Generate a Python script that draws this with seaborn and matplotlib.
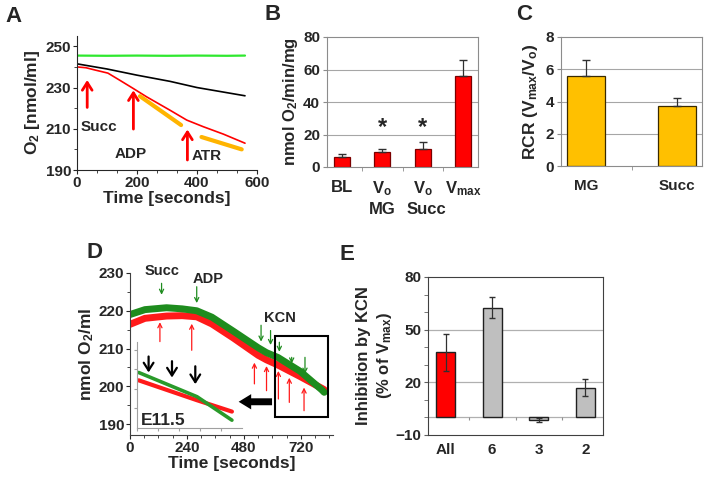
import matplotlib
matplotlib.use("Agg")
import matplotlib.pyplot as plt
import seaborn as sns
import pandas as pd
from matplotlib.ticker import MultipleLocator
from matplotlib.patches import Rectangle
from matplotlib.transforms import blended_transform_factory

# ---------------- data ----------------
# A: oxygen traces
a_green_t = [0, 100, 200, 300, 400, 500, 560]
a_green = [245.5, 245.4, 245.5, 245.4, 245.5, 245.4, 245.5]
a_black_t = [0, 100, 200, 310, 400, 500, 560]
a_black = [241.5, 239, 236, 233, 230, 227.5, 226]
a_red_t = [0, 30, 60, 103, 143, 188, 232, 310, 366, 421, 488, 560]
a_red = [240, 239.6, 238.5, 237, 233.5, 229.5, 225.5, 219, 214.2, 211, 207.4, 203]
a_orange1_t = [210, 347]
a_orange1 = [225.8, 211.8]
a_orange2_t = [415, 549]
a_orange2 = [206, 200]
a_arrow_t = [34, 188, 368]
a_arrow_from = [219, 208.5, 193.5]
a_arrow_to = [235, 230, 211]
a_text = ["Succ", "ADP", "ATR"]
a_text_t = [74, 180, 432]
a_text_y = [211, 197.7, 196.8]

# B: respiration rates
b_cats = ["BL", "Vo MG", "Vo Succ", "Vmax"]
b_labels = ["BL", r"V$_o$", r"V$_o$", r"V$_{max}$"]
b_vals = [6.2, 9.2, 11.3, 55.8]
b_err = [1.6, 2.1, 4.1, 10.2]
b_star = [False, True, True, False]

# C: RCR
c_cats = ["MG", "Succ"]
c_vals = [5.58, 3.72]
c_err = [0.99, 0.48]

# D: embryo traces
d_green_t = [0, 63, 154, 220, 281, 345, 435, 540, 575, 624, 716, 807, 818]
d_green = [219, 220.3, 220.8, 220.5, 220, 218.3, 214.6, 210.2, 208.9, 207.6, 204, 199.1, 198.4]
d_red_t = [0, 63, 154, 220, 281, 345, 435, 540, 575, 624, 716, 807, 818]
d_red = [216.4, 218, 218.6, 218.7, 218.4, 216.5, 212.8, 208.2, 207, 205.6, 202.6, 199.5, 199.1]
d_green_arrow_t = [133, 281, 552, 592, 629, 681, 737]
d_green_arrow_from = [228, 227.1, 216.9, 215.5, 212.4, 208.4, 208.4]
d_green_arrow_to = [223.5, 221.3, 211.1, 210.2, 208.4, 205.3, 202.6]
d_red_arrow_t = [126, 260, 524, 575, 625, 671, 733]
d_red_arrow_from = [211.1, 208.8, 199.9, 198.1, 195.9, 195, 192.8]
d_red_arrow_to = [217.7, 217.3, 207, 206.1, 204.8, 203, 200.4]
d_text = ["Succ", "ADP", "KCN"]
d_text_t = [133, 330, 632]
d_text_y = [230.6, 228.4, 218.2]
d_box_t = [610, 833]
d_box_y = [191.9, 213.2]
# inset (zoom of the boxed region)
i_green_t = [604, 743, 826]
i_green = [204.2, 198.0, 192.0]
i_red_t = [604, 743, 826]
i_red = [202.2, 197.1, 194.2]
i_arrow_t = [627.6, 683.3, 738.8]
i_arrow_from = [209.0, 207.8, 206.5]
i_arrow_to = [203.5, 202.2, 200.5]

# E: KCN inhibition
e_cats = ["All", "6", "3", "2"]
e_vals = [37, 62.6, -1.6, 17]
e_err = [10.3, 5.9, 1.2, 4.8]
e_colors = ["#ff0000", "#bfbfbf", "#bfbfbf", "#bfbfbf"]

# ---------------- style ----------------
sns.set_style("ticks")
plt.rcParams['font.family'] = ['Liberation Sans', 'DejaVu Sans']
plt.rcParams['font.weight'] = 'bold'
plt.rcParams['axes.labelweight'] = 'bold'
plt.rcParams['mathtext.fontset'] = 'custom'
plt.rcParams['mathtext.rm'] = 'Liberation Sans:bold'
plt.rcParams['mathtext.bf'] = 'Liberation Sans:bold'
plt.rcParams['mathtext.it'] = 'Liberation Sans:bold'
plt.rcParams['mathtext.default'] = 'bf'
plt.rcParams['xtick.labelsize'] = 11
plt.rcParams['ytick.labelsize'] = 11

W, H = 707, 480
fig = plt.figure(figsize=(7.07, 4.8), dpi=100)


def box(l, t, r, b):
    return [l / W, 1 - b / H, (r - l) / W, (b - t) / H]


def letter(x, y, s):
    fig.text(x / W, 1 - y / H, s, fontsize=16, fontweight='bold', ha='center', va='center')


# ---------------- A ----------------
axA = fig.add_axes(box(77, 36, 257, 170))
sns.lineplot(x=a_green_t, y=a_green, color="#2ee82e", lw=1.6, ax=axA)
sns.lineplot(x=a_black_t, y=a_black, color="black", lw=1.2, ax=axA)
sns.lineplot(x=a_red_t, y=a_red, color="red", lw=1.2, ax=axA)
sns.lineplot(x=a_orange1_t, y=a_orange1, color="#ffb400", lw=3, ax=axA)
sns.lineplot(x=a_orange2_t, y=a_orange2, color="#ffb400", lw=3, ax=axA)
for t, y0, y1 in zip(a_arrow_t, a_arrow_from, a_arrow_to):
    axA.annotate("", xy=(t, y1), xytext=(t, y0), annotation_clip=False,
                 arrowprops=dict(arrowstyle="->,head_length=0.55,head_width=0.35", color="red", lw=2))
for s, t, y in zip(a_text, a_text_t, a_text_y):
    axA.text(t, y, s, fontsize=11, ha='center', va='center')
axA.set_xlim(0, 600)
axA.set_ylim(190, 255)
axA.set_yticks([190, 210, 230, 250])
axA.set_xticks([0, 200, 400, 600])
axA.yaxis.set_minor_locator(MultipleLocator(10))
axA.xaxis.set_minor_locator(MultipleLocator(200 / 3))
sns.despine(ax=axA)
axA.set_xlabel("Time [seconds]", fontsize=12.5, labelpad=1)
axA.set_ylabel("O$_2$ [nmol/ml]", fontsize=12.5, labelpad=3)
axA.tick_params(length=3, pad=1)
axA.tick_params(which='minor', length=2)
letter(13, 17, "A")

# ---------------- B ----------------
grid_c = "#a6a6a6"
frame_c = "#8c8c8c"
axB = fig.add_axes(box(327, 37, 478, 167))
for y in [20, 40, 60]:
    axB.axhline(y, color=grid_c, lw=0.8, zorder=0)
sns.barplot(x=b_cats, y=b_vals, color="#ff0000", width=0.4, saturation=1,
            edgecolor="#7a0000", linewidth=0.9, ax=axB, zorder=2)
axB.errorbar(range(len(b_cats)), b_vals, yerr=[[0] * 4, b_err], fmt='none',
             ecolor="#303030", elinewidth=0.9, capsize=3, zorder=3)
for i, s in enumerate(b_star):
    if s:
        axB.text(i, 24.5, "*", fontsize=17, ha='center', va='center')
axB.set_ylim(0, 80)
axB.set_yticks([0, 20, 40, 60, 80])
axB.set_xticks(range(4))
axB.set_xticklabels(b_labels, fontsize=12)
axB.set_xticks([0.5, 1.5, 2.5], minor=True)
axB.tick_params(axis='x', which='major', length=0, pad=9)
axB.tick_params(axis='x', which='minor', length=3, color=frame_c)
axB.tick_params(axis='y', length=3, pad=2, color=frame_c)
for sp in axB.spines.values():
    sp.set_color(frame_c)
trB = blended_transform_factory(axB.transData, axB.transAxes)
axB.text(1, -0.33, "MG", transform=trB, fontsize=12, ha='center', va='center')
axB.text(2.1, -0.33, "Succ", transform=trB, fontsize=12, ha='center', va='center')
axB.set_ylabel("nmol O$_2$/min/mg", fontsize=12, labelpad=2)
axB.set_xlabel("")
letter(273, 15, "B")

# ---------------- C ----------------
axC = fig.add_axes(box(561, 37, 702, 166))
for y in [2, 4, 6]:
    axC.axhline(y, color=grid_c, lw=0.8, zorder=0)
sns.barplot(x=c_cats, y=c_vals, color="#ffc000", width=0.41, saturation=1,
            edgecolor="#3a2a00", linewidth=0.9, ax=axC, zorder=2)
axC.errorbar(range(2), c_vals, yerr=[[0, 0], c_err], fmt='none',
             ecolor="#303030", elinewidth=0.9, capsize=3, zorder=3)
axC.set_ylim(0, 8)
axC.set_yticks([0, 2, 4, 6, 8])
axC.set_xticks([0.5], minor=True)
axC.tick_params(axis='x', which='major', length=0, pad=9, labelsize=11)
axC.tick_params(axis='x', which='minor', length=3, color=frame_c)
axC.tick_params(axis='y', length=3, pad=2, color=frame_c)
for sp in axC.spines.values():
    sp.set_color(frame_c)
axC.set_ylabel("RCR (V$_{max}$/V$_o$)", fontsize=12.5, labelpad=4)
axC.set_xlabel("")
letter(524, 15, "C")

# ---------------- D ----------------
axD = fig.add_axes(box(130, 273, 333, 435))
sns.lineplot(x=d_red_t, y=d_red, color="#ff1a1a", lw=5, ax=axD)
sns.lineplot(x=d_green_t, y=d_green, color="#1e8c1e", lw=5, ax=axD)
for t, y0, y1 in zip(d_green_arrow_t, d_green_arrow_from, d_green_arrow_to):
    axD.annotate("", xy=(t, y1), xytext=(t, y0),
                 arrowprops=dict(arrowstyle="->,head_length=0.3,head_width=0.15", color="#1e8c1e", lw=0.9))
for t, y0, y1 in zip(d_red_arrow_t, d_red_arrow_from, d_red_arrow_to):
    axD.annotate("", xy=(t, y1), xytext=(t, y0),
                 arrowprops=dict(arrowstyle="->,head_length=0.3,head_width=0.15", color="#ff1a1a", lw=0.9))
for s, t, y in zip(d_text, d_text_t, d_text_y):
    axD.text(t, y, s, fontsize=10.5, ha='center', va='center')
axD.add_patch(Rectangle((d_box_t[0], d_box_y[0]), d_box_t[1] - d_box_t[0], d_box_y[1] - d_box_y[0],
                        fill=False, ec="black", lw=1.5, clip_on=False, zorder=5))
axD.annotate("", xy=(446, 195.9), xytext=(d_box_t[0], 195.9),
             arrowprops=dict(arrowstyle="simple,head_length=0.9,head_width=1.1,tail_width=0.5",
                             color="black", lw=0), zorder=6)
axD.set_xlim(0, 855)
axD.set_ylim(187.1, 230)
axD.set_xticks([0, 240, 480, 720])
axD.set_yticks([190, 200, 210, 220, 230])
axD.xaxis.set_minor_locator(MultipleLocator(60))
axD.yaxis.set_minor_locator(MultipleLocator(5))
sns.despine(ax=axD)
axD.spines['left'].set_color("#404040")
axD.spines['bottom'].set_color("#404040")
axD.tick_params(length=3, pad=1)
axD.tick_params(which='minor', length=2)
axD.set_xlabel("Time [seconds]", fontsize=12.5, labelpad=1)
axD.set_ylabel("nmol O$_2$/ml", fontsize=12.5, labelpad=2)
letter(94, 253, "D")

# inset
axI = fig.add_axes(box(137, 342, 242, 428))
axI.patch.set_alpha(0)
sns.lineplot(x=i_red_t, y=i_red, color="#ff1a1a", lw=3, ax=axI)
sns.lineplot(x=i_green_t, y=i_green, color="#2a9a2a", lw=2.6, ax=axI)
for t, y0, y1 in zip(i_arrow_t, i_arrow_from, i_arrow_to):
    axI.annotate("", xy=(t, y1), xytext=(t, y0),
                 arrowprops=dict(arrowstyle="->,head_length=0.55,head_width=0.35", color="black", lw=1.6))
axI.text(663, 192, "E11.5", fontsize=12.5, ha='center', va='center')
axI.set_xlim(600, 850)
axI.set_ylim(190, 212)
axI.set_xticks([600, 650, 700, 750, 800])
axI.set_yticks([195, 200, 205, 210])
axI.tick_params(length=2, color="#a0a0a0", labelbottom=False, labelleft=False)
sns.despine(ax=axI)
axI.spines['left'].set_color("#a0a0a0")
axI.spines['bottom'].set_color("#a0a0a0")
axI.set_xlabel("")
axI.set_ylabel("")

# ---------------- E ----------------
axE = fig.add_axes(box(428, 277, 603, 435))
for y in [0, 20, 50]:
    axE.axhline(y, color="#b0b0b0", lw=0.9, zorder=0)
sns.barplot(x=e_cats, y=e_vals, hue=e_cats, palette=e_colors, legend=False, width=0.41,
            saturation=1, edgecolor="#202020", linewidth=1.0, ax=axE, zorder=2)
axE.errorbar(range(4), e_vals, yerr=e_err, fmt='none', ecolor="#303030",
             elinewidth=0.9, capsize=2.5, zorder=3)
axE.vlines([0.5, 1.5, 2.5], -1.5, 0, color="#909090", lw=0.8)
axE.set_ylim(-10, 80)
axE.set_yticks([-10, 20, 50, 80])
axE.yaxis.set_minor_locator(MultipleLocator(10))
axE.tick_params(axis='x', length=0, pad=6, labelsize=11)
axE.tick_params(axis='y', length=3, pad=2, color="#606060")
axE.tick_params(axis='y', which='minor', length=3, color="#606060")
for sp in axE.spines.values():
    sp.set_color("#404040")
axE.set_ylabel("Inhibition by KCN\n(% of V$_{max}$)", fontsize=12, labelpad=1, linespacing=1.3)
axE.set_xlabel("")
letter(347, 255, "E")

fig.savefig("out.png", dpi=100)
